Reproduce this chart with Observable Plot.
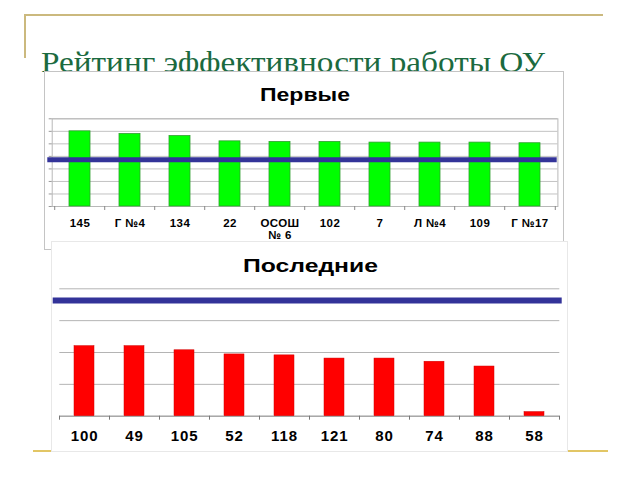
<!DOCTYPE html>
<html><head><meta charset="utf-8">
<script src="https://cdn.jsdelivr.net/npm/d3@7"></script>
<script src="https://cdn.jsdelivr.net/npm/@observablehq/plot@0.6"></script>
<style>
body{margin:0;background:#fff;}
#slide{position:relative;width:640px;height:480px;overflow:hidden;background:#fff;}
.line{position:absolute;}
.txt{position:absolute;white-space:nowrap;line-height:1;transform-origin:0 0;}
.serif{font-family:"Liberation Serif","DejaVu Serif","Times New Roman",serif;}
.sans{font-family:"Liberation Sans",Arial,sans-serif;}
.chart{position:absolute;}
</style>
</head><body>
<div id="slide"></div>
<script>
// ---- data ----
const mainTitle = "Рейтинг эффективности работы ОУ";
const topTitle = "Первые";
const topNames = ["145","Г №4","134","22","ОСОШ\n№ 6","102","7","Л №4","109","Г №17"];
const topValues = [6.0,5.78,5.62,5.2,5.15,5.15,5.1,5.1,5.1,5.05];
const topAverage = [3.74];
const topTicks = [0,1,2,3,4,5,6,7];
const bottomTitle = "Последние";
const bottomNames = ["100","49","105","52","118","121","80","74","88","58"];
const bottomValues = [2.2,2.2,2.07,1.94,1.91,1.81,1.81,1.71,1.56,0.13];
const bottomAverage = [3.63];
const bottomTicks = [0,1,2,3,4];

const slide = document.getElementById("slide");

function addLine(l,t,w,h,c){
  const d=document.createElement("div");d.className="line";
  Object.assign(d.style,{left:l+"px",top:t+"px",width:w+"px",height:h+"px",background:c});
  slide.appendChild(d);
}
function addText(str,opts){
  const d=document.createElement("div");d.className="txt "+opts.cls;d.textContent=str;
  Object.assign(d.style,{fontSize:opts.size+"px",fontWeight:opts.weight||"normal",color:opts.color});
  slide.appendChild(d);
  const w=d.getBoundingClientRect().width;
  const s=opts.width/w;
  const left = opts.left!=null ? opts.left : opts.cx-opts.width/2;
  d.style.left=left+"px";
  d.style.top=(opts.baseline-opts.asc*opts.size)+"px";
  d.style.transform="scaleX("+s+")";
  return d;
}

// decorative slide lines
addLine(25,14,578,2,"#cbb97e");
addLine(24,14,2,44,"#cbb97e");
addLine(33,450,575,2,"#e2c665");

// main title (partly covered by charts)
addText(mainTitle,{cls:"serif",size:30,color:"#1b6a3f",left:40.7,baseline:72.5,width:504,asc:0.8375});

// ---- top chart ----
const tW=518,tH=177,tML=6.7,tMR=5.6,tMT=46.3,tMB=43;
const tStep=(tW-tML-tMR)/topNames.length;
const topData=topNames.map((n,i)=>({name:n,value:topValues[i]}));
const chartTop=Plot.plot({
  width:tW,height:tH,marginLeft:tML,marginRight:tMR,marginTop:tMT,marginBottom:tMB,
  style:{fontFamily:"'Liberation Sans',Arial,sans-serif",background:"#fff",outline:"1px solid #c4c4c4",letterSpacing:"0.4px",color:"#000"},
  x:{domain:topNames,paddingInner:0.585,paddingOuter:0.2925,label:null},
  y:{domain:[0,7],label:null,axis:null},
  marks:[
    Plot.gridY(topTicks,{stroke:"#c2c2c2",strokeOpacity:1}),
    Plot.frame({stroke:"#b8b8b8"}),
    Plot.axisY(topTicks,{text:null,tickSize:3,stroke:"#999"}),
    Plot.barY(topData,{x:"name",y:"value",fill:"#00ff00",stroke:"#2f9f2f",strokeWidth:0.8}),
    Plot.ruleY(topAverage,{stroke:"#333399",strokeWidth:5,insetLeft:-4.4,insetRight:0.7}),
    Plot.axisX({text:null,tickSize:4,dx:-tStep/2,stroke:"#888"}),
    Plot.axisX({ticks:[topNames[topNames.length-1]],text:null,tickSize:4,dx:tStep/2,stroke:"#888"}),
    Plot.axisX({tickSize:0,tickPadding:12,fontSize:11.5,fontWeight:"bold",lineHeight:1.02})
  ]
});
chartTop.classList.add("chart");
Object.assign(chartTop.style,{left:"45px",top:"72px"});
slide.appendChild(chartTop);
addText(topTitle,{cls:"sans",size:19,weight:"bold",color:"#000",cx:305,baseline:100.7,width:90,asc:0.8465});

// ---- bottom chart ----
const bW=515,bH=209,bML=7.3,bMR=7.7,bMT=46.3,bMB=35.3;
const bStep=(bW-bML-bMR)/bottomNames.length;
const bottomData=bottomNames.map((n,i)=>({name:n,value:bottomValues[i]}));
const chartBottom=Plot.plot({
  width:bW,height:bH,marginLeft:bML,marginRight:bMR,marginTop:bMT,marginBottom:bMB,
  style:{fontFamily:"'Liberation Sans',Arial,sans-serif",background:"#fff",outline:"1px solid #e8e8e8",letterSpacing:"0.9px",color:"#000"},
  x:{domain:bottomNames,paddingInner:0.606,paddingOuter:0.303,label:null},
  y:{domain:[0,4],label:null,axis:null},
  marks:[
    Plot.gridY(bottomTicks,{stroke:"#b4b4b4",strokeOpacity:1}),
    Plot.ruleY([0],{stroke:"#999"}),
    Plot.barY(bottomData,{x:"name",y:"value",fill:"#ff0000",stroke:"#d00000",strokeWidth:0.5}),
    Plot.ruleY(bottomAverage,{stroke:"#333399",strokeWidth:6,insetLeft:-6.6,insetRight:-2.4}),
    Plot.axisX({text:null,tickSize:4,dx:-bStep/2,stroke:"#777"}),
    Plot.axisX({ticks:[bottomNames[bottomNames.length-1]],text:null,tickSize:4,dx:bStep/2,stroke:"#777"}),
    Plot.axisX({tickSize:0,tickPadding:14,fontSize:15,fontWeight:"bold"})
  ]
});
chartBottom.classList.add("chart");
Object.assign(chartBottom.style,{left:"52px",top:"242px"});
slide.appendChild(chartBottom);
addText(bottomTitle,{cls:"sans",size:19,weight:"bold",color:"#000",cx:310.5,baseline:271.7,width:135,asc:0.8465});
</script>
</body></html>
